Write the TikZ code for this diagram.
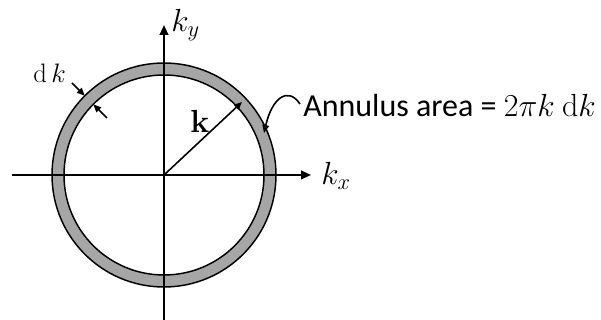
\RequirePackage{fix-cm}
\documentclass[tikz,border=0pt]{standalone}
\usepackage[no-math]{fontspec}
\setmainfont{Carlito}
\usetikzlibrary{arrows.meta}
\definecolor{ringgray}{RGB}{166,166,166}
\tikzset{
  axis/.style={line width=1.5pt,-{Triangle[length=7.5pt,width=6.5pt]}},
  ring/.style={line width=1.1pt},
  ptr/.style={line width=1.2pt,-{Triangle[length=6pt,width=5pt]}},
  lbl/.style={inner sep=0pt,anchor=base west,font=\fontsize{24}{28}\selectfont},
  smalllbl/.style={lbl,font=\fontsize{20}{24}\selectfont},
  biglbl/.style={lbl,font=\fontsize{24}{28}\selectfont}
}
\begin{document}
\begin{tikzpicture}[x=0.75pt,y=-0.75pt]
\useasboundingbox (0,0) rectangle (601,320);
\coordinate (O) at (164,175);
% annulus
\path[fill=ringgray,even odd rule] (O) circle[radius=84pt] (O) circle[radius=75pt];
\draw[ring] (O) circle[radius=84pt];
\draw[ring] (O) circle[radius=75pt];
% axes
\coordinate (xl) at (12,175);
\coordinate (xr) at (311,175);
\coordinate (yb) at (164,320);
\coordinate (yt) at (164,25);
\draw[axis] (xl) -- (xr);
\draw[axis] (yb) -- (yt);
\node[lbl] (kx) at (321,185) {$k_x$};
\node[lbl] (ky) at (171,32) {$k_y$};
% k vector
\coordinate (kt) at (242,102);
\draw[ptr] (O) -- (kt);
\node[lbl] (kb) at (190,133) {$\mathbf{k}$};
% dk
\node[smalllbl] (dk) at (33,83) {$\mathrm{d}\,k$};
\coordinate (P) at (84.8,95.8);
\coordinate (Ps) at (72,83);
\coordinate (Q) at (93.3,104.3);
\coordinate (Qs) at (107,118);
\draw[ptr] (Ps) -- (P);
\draw[ptr] (Qs) -- (Q);
% annulus label
\node[biglbl] (ann) at (303,117) {Annulus area = $2\pi k\ \mathrm{d}k$};
\coordinate (cs) at (300,104);
\coordinate (ce) at (264,133);
\draw[ptr] (cs) .. controls (288,86) and (272,98) .. (ce);
\end{tikzpicture}
\end{document}
